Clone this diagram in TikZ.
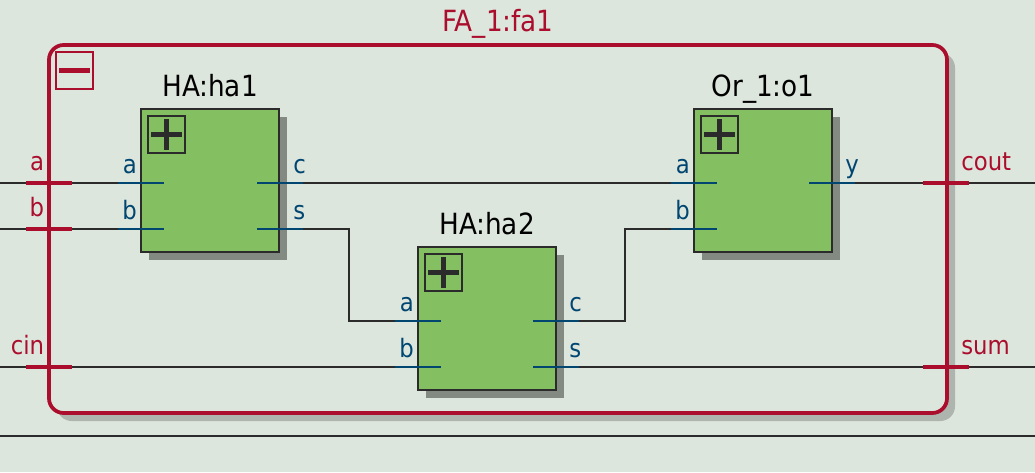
\documentclass[tikz,border=0pt]{standalone}
\usepackage{fontspec}
\setmainfont{DejaVu Sans Condensed}
\usetikzlibrary{shadows}
\definecolor{schembg}{HTML}{DDE6DD}
\definecolor{schemred}{HTML}{AB0D2D}
\definecolor{schemblue}{HTML}{004671}
\definecolor{schemgreen}{HTML}{84C061}
\definecolor{schemdark}{HTML}{2B2B2B}
\definecolor{blockshadow}{HTML}{828A82}
\definecolor{frameshadow}{HTML}{AEB5AE}
\tikzstyle{wire}=[draw=schemdark, line width=1.5pt]
\tikzstyle{block}=[draw=schemdark, fill=schemgreen, line width=1.5pt, inner sep=0, outer sep=0,
                   minimum width=103.5pt, minimum height=107.25pt,
                   general shadow={fill=blockshadow, shadow xshift=6pt, shadow yshift=-6pt}]
\tikzstyle{blocktitle}=[anchor=base, yshift=9.25pt, inner sep=0, font=\fontsize{21.9}{23}\selectfont]
\tikzstyle{frame}=[draw=schemred, fill=schembg, line width=2.8pt, rounded corners=11pt, inner sep=0, outer sep=0,
                   minimum width=673.5pt, minimum height=276pt,
                   general shadow={fill=frameshadow, shadow xshift=6pt, shadow yshift=-6pt}]
\tikzstyle{port}=[inner sep=0, outer sep=0, minimum width=34.5pt, minimum height=1.5pt, fill=schemblue]
\tikzstyle{portlabel}=[inner sep=0, text=schemblue, font=\fontsize{19}{20}\selectfont]
\tikzstyle{inport}=[port, label={[portlabel, anchor=base east, xshift=14.25pt, yshift=7.5pt]west:#1}]
\tikzstyle{outport}=[port, label={[portlabel, anchor=base west, xshift=-7.5pt, yshift=7.5pt]east:#1}]
\tikzstyle{topport}=[inner sep=0, outer sep=0, minimum width=34.5pt, minimum height=2.8pt, fill=schemred]
\tikzstyle{toplabel}=[inner sep=0, text=schemred, font=\fontsize{19}{20}\selectfont]
\tikzstyle{topin}=[topport, label={[toplabel, anchor=base east, xshift=13.75pt, yshift=9.75pt]west:#1}]
\tikzstyle{topout}=[topport, label={[toplabel, anchor=base west, xshift=-6pt, yshift=9.75pt]east:#1}]
\tikzstyle{expand}=[draw=schemdark, line width=1.5pt, minimum size=27.75pt, inner sep=0, outer sep=0,
                    path picture={\draw[schemdark, line width=3.4pt]
                      ([xshift=2.6pt]path picture bounding box.west) -- ([xshift=-2.6pt]path picture bounding box.east)
                      ([yshift=-2.6pt]path picture bounding box.north) -- ([yshift=2.6pt]path picture bounding box.south);}]
\tikzstyle{collapse}=[draw=schemred, line width=1.5pt, minimum size=27.75pt, inner sep=0, outer sep=0,
                      path picture={\draw[schemred, line width=3.4pt]
                        ([xshift=2.6pt]path picture bounding box.west) -- ([xshift=-2.6pt]path picture bounding box.east);}]

\begin{document}
\begin{tikzpicture}[x=0.75pt, y=-0.75pt]
        \useasboundingbox (0, 0) rectangle (1035, 472);
        \fill[schembg] (0, 0) rectangle (1035, 472);
        % Hierarchy frame and its pins.
        \node[frame, label={[blocktitle, text=schemred, yshift=1.25pt]north:{FA\_1:fa1}}] (fa1) at (498, 229) {};
        \node[collapse] (fa1minus) at (74.5, 70.5) {};
        \node[block, label={[blocktitle]north:{HA:ha1}}]   (ha1) at (210, 180.5) {};
        \node[block, label={[blocktitle]north:{HA:ha2}}]   (ha2) at (487, 318.5) {};
        \node[block, label={[blocktitle]north:{Or\_1:o1}}] (o1)  at (763, 180.5) {};
        \node[expand] (ha1plus) at (166.5, 134.5) {};
        \node[expand] (ha2plus) at (443.5, 272.5) {};
        \node[expand] (o1plus)  at (719.5, 134.5) {};
        \node[inport=a]  (ha1a) at (141, 183) {};
        \node[inport=b]  (ha1b) at (141, 229) {};
        \node[outport=c] (ha1c) at (280, 183) {};
        \node[outport=s] (ha1s) at (280, 229) {};
        \node[inport=a]  (ha2a) at (418, 321) {};
        \node[inport=b]  (ha2b) at (418, 367) {};
        \node[outport=c] (ha2c) at (556, 321) {};
        \node[outport=s] (ha2s) at (556, 367) {};
        \node[inport=a]  (o1a)  at (694, 183) {};
        \node[inport=b]  (o1b)  at (694, 229) {};
        \node[outport=y] (o1y)  at (832, 183) {};
        \node[topin=a]     (pina)    at (49, 183) {};
        \node[topin=b]     (pinb)    at (49, 229) {};
        \node[topin=cin]   (pincin)  at (49, 367) {};
        \node[topout=cout] (pincout) at (946, 183) {};
        \node[topout=sum]  (pinsum)  at (946, 367) {};
        \coordinate (ina)   at (0, 183);
        \coordinate (inb)   at (0, 229);
        \coordinate (incin) at (0, 367);
        \coordinate (outcout) at (1035, 183);
        \coordinate (outsum)  at (1035, 367);
        \coordinate (railw) at (0, 436);
        \coordinate (raile) at (1035, 436);
        \draw[wire] (ina) -- (pina.west);
        \draw[wire] (inb) -- (pinb.west);
        \draw[wire] (incin) -- (pincin.west);
        \draw[wire] (pina.east) -- (ha1a.west);
        \draw[wire] (pinb.east) -- (ha1b.west);
        \draw[wire] (pincin.east) -- (ha2b.west);
        \draw[wire] (ha1c.east) -- (o1a.west);
        \draw[wire] (ha1s.east) -- (349, 229) -- (349, 321) -- (ha2a.west);
        \draw[wire] (ha2c.east) -- (625, 321) -- (625, 229) -- (o1b.west);
        \draw[wire] (ha2s.east) -- (pinsum.west);
        \draw[wire] (o1y.east) -- (pincout.west);
        \draw[wire] (pincout.east) -- (outcout);
        \draw[wire] (pinsum.east) -- (outsum);
        \draw[wire] (railw) -- (raile);
    \end{tikzpicture}
\end{document}
